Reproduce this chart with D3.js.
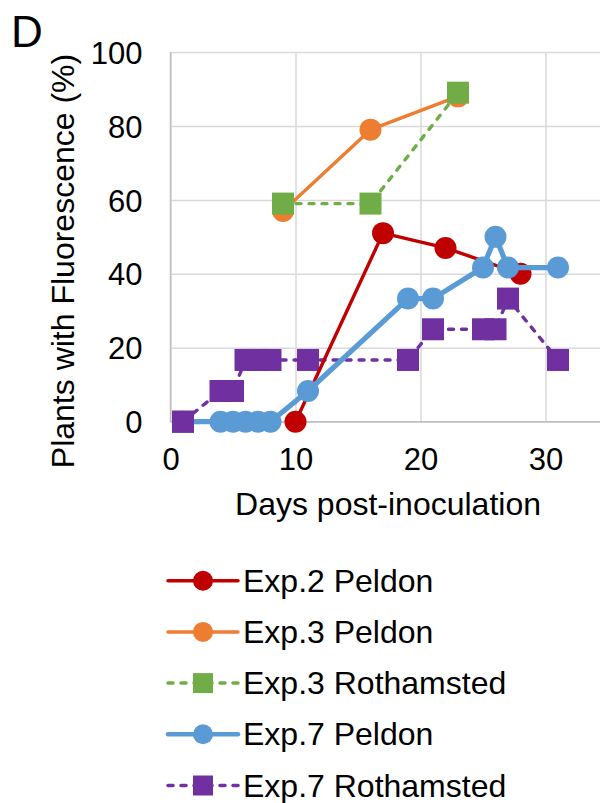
<!DOCTYPE html>
<html>
<head>
<meta charset="utf-8">
<script src="https://cdn.jsdelivr.net/npm/d3@7"></script>
<style>
  body { margin: 0; background: #fff; }
  svg { display: block; font-family: Arial, "Liberation Sans", sans-serif; }
</style>
</head>
<body>
<svg id="canvas" width="600" height="803"></svg>
<script>
// tick labels
let xTicks = [0, 10, 20, 30]
let yTicks = [0, 20, 40, 60, 80, 100]

// series (days post-inoculation, % plants with fluorescence)
let exp2PeldonDays = [10, 17, 22, 28]
let exp2PeldonVals = [0, 51, 47, 40]

let exp3PeldonDays = [9, 16, 23]
let exp3PeldonVals = [57, 79, 88]

let exp3RothDays = [9, 16, 23]
let exp3RothVals = [59, 59, 89]

let exp7PeldonDays = [1, 4, 5, 6, 7, 8, 11, 19, 21, 25, 26, 27, 31]
let exp7PeldonVals = [0, 0, 0, 0, 0, 0, 8.3, 33.3, 33.3, 41.7, 50, 41.7, 41.7]

let exp7RothDays = [1, 4, 5, 6, 7, 8, 11, 19, 21, 25, 26, 27, 31]
let exp7RothVals = [0, 8.3, 8.3, 16.7, 16.7, 16.7, 16.7, 16.7, 25, 25, 25, 33.3, 16.7]

let series = [
    { name: 'Exp.2 Peldon', days: exp2PeldonDays, vals: exp2PeldonVals, color: '#c00000', shape: 'circle', dash: null, w: 3.4 },
    { name: 'Exp.3 Peldon', days: exp3PeldonDays, vals: exp3PeldonVals, color: '#ed7d31', shape: 'circle', dash: null, w: 3.4 },
    { name: 'Exp.3 Rothamsted', days: exp3RothDays, vals: exp3RothVals, color: '#70ad47', shape: 'square', dash: '5,8', w: 3.4 },
    { name: 'Exp.7 Peldon', days: exp7PeldonDays, vals: exp7PeldonVals, color: '#5b9bd5', shape: 'circle', dash: null, w: 5.2 },
    { name: 'Exp.7 Rothamsted', days: exp7RothDays, vals: exp7RothVals, color: '#7030a0', shape: 'square', dash: '5,8', w: 3.4 }
]

let canvas = d3.select('#canvas')

let plotLeft = 170.5, plotRight = 608, plotTop = 52, plotBottom = 421.7

let xScale = d3.scaleLinear().domain([0, 35]).range([plotLeft, plotRight])
let yScale = d3.scaleLinear().domain([0, 100]).range([plotBottom, plotTop])

// gridlines + tick labels
let xAxis = d3.axisBottom(xScale)
    .tickValues(xTicks)
    .tickSizeInner(-(plotBottom - plotTop))
    .tickSizeOuter(0)
    .tickPadding(26)
let yAxis = d3.axisLeft(yScale)
    .tickValues(yTicks)
    .tickSizeInner(-(600 - plotLeft))
    .tickSizeOuter(0)
    .tickPadding(28)

let gx = canvas.append('g')
    .attr('transform', 'translate(0,' + plotBottom + ')')
    .call(xAxis)
let gy = canvas.append('g')
    .attr('transform', 'translate(' + plotLeft + ',0)')
    .call(yAxis)

;[gx, gy].forEach((g) => {
    g.select('.domain').remove()
    g.selectAll('line').attr('stroke', '#d9d9d9').attr('stroke-width', 1.5)
    g.selectAll('text')
        .attr('fill', '#000')
        .style('font-size', '31px')
        .style('font-family', 'Arial, "Liberation Sans", sans-serif')
})
gy.selectAll('text').attr('dy', '0.36em')

// axis lines
canvas.append('line')
    .attr('x1', plotLeft).attr('x2', plotLeft).attr('y1', plotTop).attr('y2', plotBottom)
    .attr('stroke', '#bfbfbf').attr('stroke-width', 1.5)
canvas.append('line')
    .attr('x1', plotLeft).attr('x2', 600).attr('y1', plotBottom).attr('y2', plotBottom)
    .attr('stroke', '#bfbfbf').attr('stroke-width', 1.5)

let line = d3.line()
    .x((d) => xScale(d[0]))
    .y((d) => yScale(d[1]))

let drawMarker = (sel, s, size) => {
    if (s.shape === 'circle') {
        sel.append('circle')
            .attr('r', size / 2)
            .attr('fill', s.color)
    } else {
        sel.append('rect')
            .attr('x', -size / 2).attr('y', -size / 2)
            .attr('width', size).attr('height', size)
            .attr('fill', s.color)
    }
}

let drawSeries = (s) => {
    let pts = s.days.map((d, i) => [d, s.vals[i]])
    let g = canvas.append('g')
    g.append('path')
        .datum(pts)
        .attr('d', line)
        .attr('fill', 'none')
        .attr('stroke', s.color)
        .attr('stroke-width', s.w)
        .attr('stroke-dasharray', s.dash)
        .attr('stroke-linecap', s.dash ? 'round' : 'butt')
        .attr('stroke-linejoin', 'round')
    g.selectAll('g.pt')
        .data(pts)
        .enter()
        .append('g')
        .attr('transform', (d) => 'translate(' + xScale(d[0]) + ',' + yScale(d[1]) + ')')
        .each(function () { drawMarker(d3.select(this), s, 22) })
}

// purple sits under the others, except its baseline marker
drawSeries(series[4])
drawSeries(series[0])
drawSeries(series[1])
drawSeries(series[2])
drawSeries(series[3])
canvas.append('g').selectAll('g')
    .data(exp7RothDays.map((d, i) => [d, exp7RothVals[i]]).filter((d) => d[1] === 0))
    .enter()
    .append('g')
    .attr('transform', (d) => 'translate(' + xScale(d[0]) + ',' + yScale(d[1]) + ')')
    .each(function () { drawMarker(d3.select(this), series[4], 22) })

// titles
canvas.append('text')
    .attr('x', 388).attr('y', 515)
    .attr('text-anchor', 'middle')
    .style('font-size', '32px')
    .text('Days post-inoculation')
canvas.append('text')
    .attr('transform', 'translate(74,261) rotate(-90)')
    .attr('text-anchor', 'middle')
    .style('font-size', '32px')
    .text('Plants with Fluorescence (%)')
canvas.append('text')
    .attr('x', 11).attr('y', 46.5)
    .style('font-size', '44px')
    .text('D')

// legend
let legend = canvas.selectAll('g.legend')
    .data(series)
    .enter()
    .append('g')
    .attr('class', 'legend')
    .attr('transform', (s, i) => 'translate(168,' + (580.7 + i * 51.2) + ')')
legend.append('line')
    .attr('x1', 0).attr('x2', 70)
    .attr('stroke', (s) => s.color)
    .attr('stroke-width', (s) => s.w > 5 ? 4.5 : 3.5)
    .attr('stroke-dasharray', (s) => s.dash ? '5,8' : null)
    .attr('stroke-linecap', 'round')
legend.each(function (s) {
    let m = d3.select(this).append('g').attr('transform', 'translate(35,0)')
    drawMarker(m, s, 20)
})
legend.append('text')
    .attr('x', 75)
    .attr('y', 11)
    .style('font-size', '32px')
    .text((s) => s.name)
</script>
</body>
</html>
